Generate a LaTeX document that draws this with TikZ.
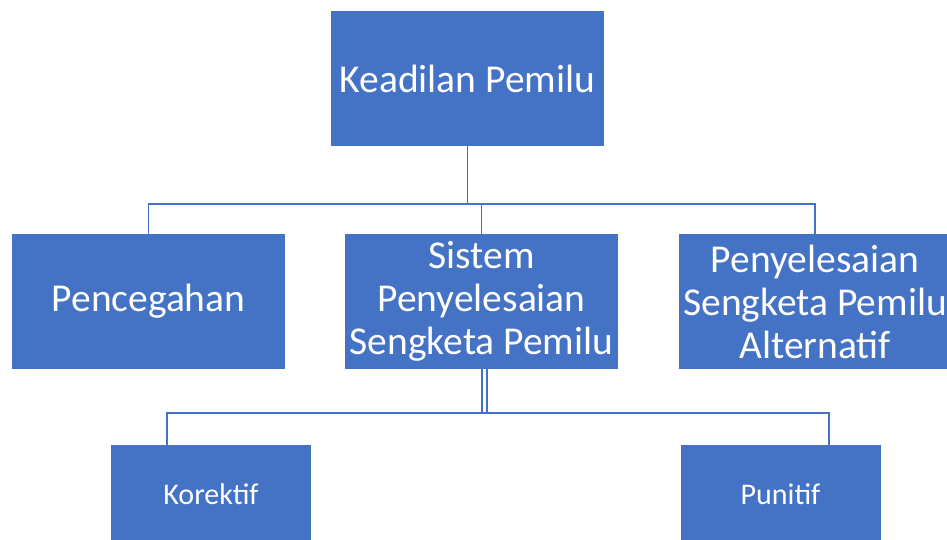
\documentclass[tikz,border=0pt]{standalone}
\usepackage{fontspec}
\setmainfont{Carlito}
\definecolor{boxblue}{HTML}{4472C4}
\begin{document}
\begin{tikzpicture}[x=1pt,y=-1pt,
  box/.style={fill=boxblue, text=white, inner sep=0pt, align=center, minimum width=273pt, minimum height=135pt},
  leaf/.style={fill=boxblue, text=white, inner sep=0pt, minimum width=200pt, minimum height=98pt, font=\fontsize{30}{36}\selectfont},
  conn/.style={draw=boxblue, line width=1.8pt}]
\useasboundingbox (0,0) rectangle (947,540);
\node[box, font=\fontsize{39.5}{43}\selectfont] (top) at (467.5,78.5) {Keadilan Pemilu};
\node[box, font=\fontsize{39.5}{43}\selectfont] (pencegahan) at (148.5,301.5) {Pencegahan};
\node[box, font=\fontsize{39.5}{43}\selectfont] (sistem) at (481.5,301.5) {Sistem\\Penyelesaian\\Sengketa Pemilu};
\node[box, font=\fontsize{39.5}{43}\selectfont] (alternatif) at (815,301.5) {Penyelesaian\\Sengketa Pemilu\\Alternatif};
\node[leaf] (korektif) at (211,494) {Korektif};
\node[leaf] (punitif) at (780.5,494) {Punitif};
% connectors from the top box
\coordinate (hub) at (467.5,204);
\draw[conn] (top.south) -- (hub);
\draw[conn] (pencegahan.north) |- (hub) -| (alternatif.north);
\draw[conn] (sistem.north) -- (sistem.north |- hub);
% connectors to the lower boxes
\coordinate (split) at (484.5,413);
\coordinate (korin) at (167,445);
\coordinate (punin) at (829,445);
\draw[conn, double=white, double distance=3.5pt, line width=1.4pt] (split |- sistem.south) -- (split);
\draw[conn] (korin) |- (split) -| (punin);
\end{tikzpicture}
\end{document}
